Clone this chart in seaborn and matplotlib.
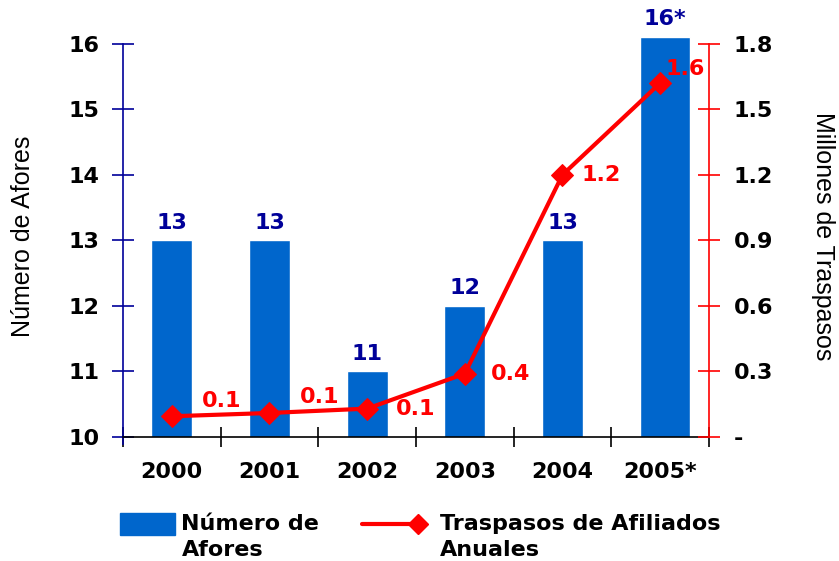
import numpy as np
import pandas as pd
import seaborn as sns
import matplotlib.pyplot as plt
from matplotlib.patches import Patch, Rectangle
from matplotlib.lines import Line2D
from matplotlib.legend_handler import HandlerBase

# Data
years = ["2000", "2001", "2002", "2003", "2004", "2005*"]
afores = [13, 13, 11, 12, 13, 16.1]
afores_labels = ["13", "13", "11", "12", "13", "16*"]
traspasos = [0.095, 0.11, 0.13, 0.29, 1.20, 1.62]
traspasos_labels = ["0.1", "0.1", "0.1", "0.4", "1.2", "1.6"]
left_ticks = [10, 11, 12, 13, 14, 15, 16]
right_ticks = [0, 0.3, 0.6, 0.9, 1.2, 1.5, 1.8]
right_ticklabels = ["-", "0.3", "0.6", "0.9", "1.2", "1.5", "1.8"]

BLUE = "#0066CC"
RED = "#FF0000"
NAVY = "#000099"


class TopPatchHandler(HandlerBase):
    # blue box aligned with the first line of a two-line label
    def create_artists(self, legend, orig_handle, xdescent, ydescent,
                       width, height, fontsize, trans):
        yc = height / 2 - ydescent + 0.58 * fontsize
        h = 0.5 * fontsize
        rect = Rectangle((-xdescent, yc - h), width, 2 * h,
                         facecolor=BLUE, edgecolor=BLUE, transform=trans)
        return [rect]


class EndMarkerHandler(HandlerBase):
    # legend line with the diamond at its right end, as in the original
    def create_artists(self, legend, orig_handle, xdescent, ydescent,
                       width, height, fontsize, trans):
        y = height / 2 - ydescent + 0.58 * fontsize
        xend = width - xdescent - 0.72 * fontsize
        line = Line2D([-xdescent, xend], [y, y], color=RED,
                      linewidth=3, transform=trans)
        mark = Line2D([xend], [y], color=RED, marker="D",
                      markersize=10, linestyle="none", transform=trans)
        return [line, mark]


def main():
    sns.set_theme(style="white", rc={
        "text.color": "black",
        "axes.labelcolor": "black",
        "xtick.color": "black",
        "ytick.color": "black",
    })
    plt.rcParams["font.family"] = ["DejaVu Sans"]

    df = pd.DataFrame({"year": years, "afores": afores, "traspasos": traspasos})

    fig = plt.figure(figsize=(8.39, 5.61), dpi=100)
    ax = fig.add_axes([0.1466, 0.221, 0.6984, 0.715])

    sns.barplot(data=df, x="year", y="afores", color=BLUE, saturation=1,
                width=0.42, ax=ax, zorder=2)
    # last bar is drawn a bit wider in the original
    last = ax.patches[-1]
    cx = last.get_x() + last.get_width() / 2
    last.set_width(0.52)
    last.set_x(cx - 0.26 + 0.05)

    ax.set_ylim(10, 16.12)
    ax.set_xlim(-0.5, len(years) - 0.5)

    # bar value labels
    for i, (v, lab) in enumerate(zip(afores, afores_labels)):
        xoff = 0.05 if i == len(years) - 1 else 0
        ax.text(i + xoff, v + 0.12, lab, ha="center", va="bottom",
                color=NAVY, fontsize=16, fontweight="bold")

    ax2 = ax.twinx()
    sns.lineplot(x=np.arange(len(years)), y=traspasos, ax=ax2, color=RED,
                 linewidth=3, marker="D", markersize=11, markeredgecolor=RED,
                 zorder=3)
    ax2.set_ylim(0, 1.8 + 0.12 * 0.3)

    # line value labels
    offsets = [(0.31, 0.07), (0.31, 0.075), (0.29, 0.0), (0.27, 0.0), (0.2, 0.0), (0.05, 0.065)]
    for i, (v, lab) in enumerate(zip(traspasos, traspasos_labels)):
        dx, dy = offsets[i]
        ax2.text(i + dx, v + dy, lab, ha="left", va="center",
                 color=RED, fontsize=16, fontweight="bold")

    # axis styling
    for s in ["top", "right"]:
        ax.spines[s].set_visible(False)
        ax2.spines[s].set_visible(False)
    ax2.spines["left"].set_visible(False)
    ax2.spines["bottom"].set_visible(False)
    ax.spines["left"].set_color(NAVY)
    ax.spines["left"].set_linewidth(1.2)
    ax.spines["left"].set_bounds(9.9, 16)
    ax.spines["bottom"].set_color("black")
    ax.spines["bottom"].set_linewidth(1.2)
    ax2.spines["right"].set_visible(True)
    ax2.spines["right"].set_color(RED)
    ax2.spines["right"].set_linewidth(1.2)
    ax2.spines["right"].set_bounds(0, 1.8)

    ax.set_yticks(left_ticks)
    ax.set_yticklabels([str(t) for t in left_ticks], fontsize=16, fontweight="bold")
    ax.tick_params(axis="y", direction="inout", length=16, width=1.2,
                   color=NAVY, left=True, pad=9)

    ax.set_xticks(np.arange(len(years)))
    ax.set_xticklabels(years, fontsize=16, fontweight="bold")
    ax.tick_params(axis="x", which="major", length=0, pad=18)
    ax.set_xticks(np.arange(len(years) + 1) - 0.5, minor=True)
    ax.tick_params(axis="x", which="minor", direction="inout", length=14,
                   width=1.2, color="black", bottom=True)

    ax2.set_yticks(right_ticks)
    ax2.set_yticklabels(right_ticklabels, fontsize=16, fontweight="bold")
    ax2.tick_params(axis="y", direction="inout", length=16, width=1.2,
                    color=RED, right=True, pad=10)

    ax.set_xlabel("")
    ax.set_ylabel("Número de Afores", fontsize=18, family="Liberation Sans",
                  labelpad=24)
    ax2.set_ylabel("Millones de Traspasos", fontsize=18, family="Liberation Sans",
                   rotation=270, labelpad=44)
    ax.grid(False)
    ax2.grid(False)

    # two separate legends so each entry can have its own handle length
    bar_handle = Patch(facecolor=BLUE, edgecolor=BLUE)
    line_handle = Line2D([0], [0], color=RED, linewidth=3, marker="D")
    leg1 = fig.legend([bar_handle], ["Número de\nAfores"], loc="lower left",
                      bbox_to_anchor=(0.119, -0.034), frameon=False,
                      prop={"size": 16, "weight": "bold"},
                      handlelength=2.5, handleheight=1.0, handletextpad=0.27,
                      handler_map={bar_handle: TopPatchHandler()})
    leg2 = fig.legend([line_handle], ["Traspasos de Afiliados\nAnuales"],
                      loc="lower left", bbox_to_anchor=(0.4076, -0.034),
                      frameon=False, prop={"size": 16, "weight": "bold"},
                      handlelength=3.25, handleheight=1.0, handletextpad=0.27,
                      handler_map={line_handle: EndMarkerHandler()})
    for leg in (leg1, leg2):
        for t in leg.get_texts():
            t.set_linespacing(1.4)

    fig.savefig("out.png", dpi=100)


if __name__ == "__main__":
    main()
